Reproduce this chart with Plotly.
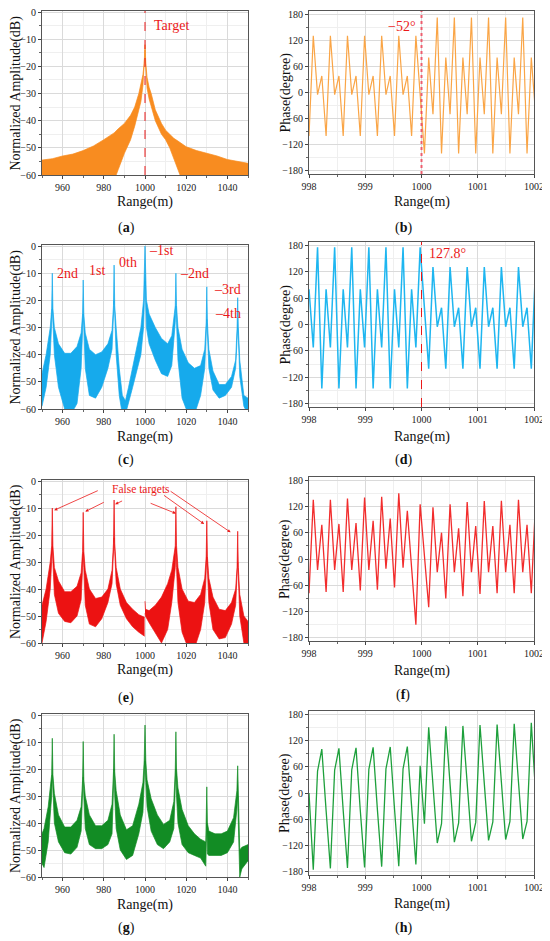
import plotly.graph_objects as go

# ------------------------------------------------------------------
# Values
# ------------------------------------------------------------------
target_range = 1000  # true target position (m)

# range axes / tick labels
amp_xticks = [960, 980, 1000, 1020, 1040]
amp_yticks = [0, -10, -20, -30, -40, -50, -60]
phase_xticks = [998, 999, 1000, 1001, 1002]
phase_yticks = [-180, -120, -60, 0, 60, 120, 180]

# (a) true target only: upper / lower edge of the amplitude band (dB)
a_range = [950, 955, 960, 965, 970, 975, 980, 985, 987, 990,
           993, 995, 997, 998, 999, 999.6, 1000, 1000.4, 1001, 1002,
           1003, 1005, 1008, 1010, 1012, 1014, 1016, 1018, 1020, 1025,
           1030, 1035, 1040, 1045, 1050]
a_upper = [-54.5, -54, -53, -52.3, -51, -49.3, -47, -44.5, -43, -41,
           -38, -35, -30, -27, -23, -19, -12, -19, -24, -27.7,
           -30, -36, -41, -43.5, -45, -46.5, -47.5, -48.5, -49.6, -51,
           -52, -53, -54.3, -55, -55.7]
a_lower = [-62, -62, -62, -62, -62, -62, -62, -62, -58, -52,
           -47, -42, -36, -33, -27, -21, -14, -21, -28, -32,
           -35, -40, -45, -47, -50, -54, -58, -62, -62, -62,
           -62, -62, -62, -62, -62]

# (c) interrupted-sampling repeater: harmonic false targets
c_range = [950, 952, 954, 954.7, 955, 955.3, 956, 958, 961, 964,
           967, 969, 969.7, 970, 970.3, 971, 973, 976, 979, 982,
           984, 984.7, 985, 985.3, 986, 987.5, 989, 990.5, 992, 994,
           996, 998, 999.3, 1000, 1000.7, 1002, 1005, 1008, 1011, 1013,
           1014.7, 1015, 1015.3, 1016, 1018, 1021, 1024, 1027, 1029, 1029.7,
           1030, 1030.3, 1031, 1033, 1036, 1039, 1042, 1044, 1044.7, 1045,
           1045.3, 1046, 1048, 1050]
c_upper = [-47, -40, -30, -23, -10, -23, -30, -36, -39.5, -39.5,
           -37, -32, -25, -12.5, -25, -32, -38, -40, -39, -36,
           -31, -22, -7, -22, -30, -45, -55, -57, -52, -45,
           -38, -30, -20, 0, -20, -25, -30, -34, -36, -33,
           -22, -10, -22, -30, -38, -43, -45, -44, -38, -28,
           -15, -28, -38, -46, -51, -51, -48, -42, -30, -19,
           -30, -42, -55, -56]
c_lower = [-59, -52, -40, -28, -23, -28, -40, -52, -60, -62,
           -58, -45, -30, -25, -30, -45, -55, -56, -52, -45,
           -38, -25, -20, -25, -40, -55, -62, -62, -58, -52,
           -46, -40, -30, -13, -30, -36, -42, -47, -48, -44,
           -28, -22, -28, -42, -56, -62, -62, -55, -45, -32,
           -27, -32, -45, -53, -56, -55, -52, -45, -33, -30,
           -33, -48, -59, -62]

# (e) false targets only (true target removed)
e_range = [950, 952, 954, 954.7, 955, 955.3, 956, 958, 961, 964,
           967, 969, 969.7, 970, 970.3, 971, 973, 976, 979, 982,
           984, 984.7, 985, 985.3, 986, 988, 991, 994, 997, 999.8,
           1000, 1000.2, 1002, 1005, 1008, 1011, 1013, 1014.7, 1015, 1015.3,
           1016, 1018, 1021, 1024, 1027, 1029, 1029.7, 1030, 1030.3, 1031,
           1033, 1036, 1039, 1042, 1044, 1044.7, 1045, 1045.3, 1046, 1048,
           1050]
e_upper = [-46, -40, -30, -24, -10, -24, -32, -37, -41, -41,
           -39, -34, -26, -11.6, -26, -33, -40, -43.5, -43, -40,
           -33, -23, -7, -23, -32, -40, -45, -47.5, -49.5, -50.5,
           -44.5, -47.5, -48, -46, -43, -38, -33, -24, -9.5, -24,
           -32, -40, -44.5, -45, -42, -36, -28, -14.7, -28, -36,
           -43, -47.5, -48, -45, -40, -32, -18.6, -32, -42, -50,
           -52]
e_lower = [-60, -52, -40, -30, -25, -30, -42, -49, -52, -52.5,
           -50, -44, -32, -27, -32, -46, -53, -54, -51, -45,
           -38, -26, -21, -26, -38, -46, -51, -54, -56, -57.5,
           -49, -50, -52.5, -56, -60, -55, -45, -32, -25, -32,
           -45, -56, -62, -62, -55, -45, -33, -28, -33, -45,
           -55, -58.5, -58, -53, -46, -35, -30, -35, -50, -60,
           -62]

# (g) false targets with phase compensation
g_range = [950, 951, 953, 954.7, 955, 955.3, 956, 958, 961, 964,
           967, 969, 969.7, 970, 970.3, 971, 973, 976, 979, 982,
           984, 984.7, 985, 985.3, 986, 988, 991, 994, 997, 999,
           999.6, 1000, 1000.4, 1001, 1003, 1006, 1009, 1012, 1014, 1014.7,
           1015, 1015.3, 1016, 1018, 1021, 1024, 1027, 1029.5, 1030, 1030.3,
           1031, 1034, 1037, 1040, 1043, 1044.6, 1045, 1045.3, 1046, 1047,
           1050]
g_upper = [-44, -42, -34, -22, -8.6, -22, -29, -37, -41.5, -41.5,
           -39, -34, -24, -9.8, -24, -30, -37, -41, -41, -39,
           -33, -21, -7.1, -21, -28, -37, -42.5, -41, -33, -25,
           -17, -3.7, -17, -24, -31, -37, -40.5, -39, -32, -20,
           -6.2, -20, -27, -35, -41, -44, -46, -47, -26.6, -40,
           -43, -44, -44, -43, -38, -28, -18.8, -32, -50, -49,
           -48]
g_lower = [-55, -56.5, -47, -30, -22, -30, -40, -47, -51, -51.5,
           -49, -43, -30, -23, -30, -42, -48, -49.5, -49.5, -48,
           -44, -30, -20, -30, -42, -50, -53.5, -52, -44, -36,
           -25, -17, -25, -34, -43, -48, -49.5, -47, -42, -30,
           -20, -30, -40, -48, -51, -52, -53, -56, -40, -51.5,
           -52, -52, -52, -51, -47, -35, -30, -40, -60, -57,
           -54]

# phase samples from 998 m on, one range bin apart
bin_size = 0.076
phase_range = [round(998 + bin_size * i, 3) for i in range(54)]

b_phase = [-100, 130, -5, 38, -100, 130, -5, 38, -100, 130,
           -5, 38, -100, 130, -5, 38, -100, 130, -5, 38,
           -100, 130, -5, 38, -100, 130, -5, -140, 80, -50,
           172, -140, 80, -50, 172, -140, 80, -50, 172, -140,
           80, -50, 172, -140, 80, -50, 172, -140, 80, -50,
           172, -140, 80, -50]
d_phase = [80, -52, 175, -145, 80, -52, 175, -145, 80, -52,
           175, -145, 80, -52, 175, -145, 80, -52, 175, -145,
           80, -52, 175, -145, 80, -52, 175, 40, -100, 130,
           -5, 38, -100, 130, -5, 38, -100, 130, -5, 38,
           -100, 130, -5, 38, -100, 130, -5, 38, -100, 130,
           -5, 38, -100, 130]
f_phase = [-78, 135, -25, 78, -75, 135, -25, 80, -75, 138,
           -25, 82, -72, 140, -25, 87, -70, 142, -22, 92,
           -65, 150, -20, 110, -20, -150, 125, 5, -110, 118,
           -30, 60, -90, 125, -30, 70, -85, 130, -30, 75,
           -80, 132, -30, 75, -78, 133, -30, 78, -78, 135,
           -30, 78, -78, 130]
h_phase = [0, -175, 50, 100, -40, -172, 52, 102, -40, -171,
           53, 103, -40, -170, 54, 104, -38, -168, 55, 105,
           -36, -167, 55, 106, -30, -163, 62, -70, 150, 20,
           -114, -70, 152, 20, -112, -68, 153, 22, -110, -67,
           155, 22, -108, -66, 156, 25, -106, -65, 158, 25,
           -105, -65, 160, 0]

# labels of panel (c)
c_labels = ["2nd", "1st", "0th", "–1st", "–2nd", "–3rd", "–4th"]
c_label_x = [956.3, 971.8, 986.4, 1001, 1016, 1032.5, 1033]
c_label_y = [-10.2, -9.1, -5.9, -1.8, -10.2, -16, -24.9]

# arrows of panel (e): head at the false target, tail near the text
false_peak_x = [955.9, 971.0, 985.5, 1015.0, 1028.7, 1041.6]
false_peak_y = [-10.8, -11.3, -8.6, -12.0, -15.9, -19.0]
false_tail_x = [977.8, 980.7, 989.6, 1002.0, 1008.5, 1011.7]
false_tail_y = [-3.3, -7.6, -7.1, -8.0, -4.9, -3.4]

# ------------------------------------------------------------------
# Figure
# ------------------------------------------------------------------
FONT = "Liberation Serif, Times New Roman, serif"
OFF = 8                # default body margin of the html page
W, H = 550 - OFF, 941 - OFF
RED = "rgb(235,25,25)"


def px(x):
    return (x - OFF) / W


def py(y):
    return 1 - (y - OFF) / H


# panel frames in page pixels: left, right, top, bottom
frames = {
    1: (42, 248, 11, 175), 2: (309, 534, 11, 174),
    3: (42, 248, 245, 409), 4: (309, 534, 242, 407),
    5: (42, 248, 480, 643), 6: (309, 534, 477, 641),
    7: (42, 248, 714, 877), 8: (309, 534, 711, 875),
}


def sfx(n):
    return "" if n == 1 else str(n)


fig = go.Figure()


def add_band(n, x, lo, hi, color):
    for y, fill in ((lo, None), (hi, "tonexty")):
        fig.add_trace(go.Scatter(
            x=x, y=y, mode="lines", line=dict(color=color, width=0.7),
            fill=fill, fillcolor=color if fill else None,
            xaxis="x" + sfx(n), yaxis="y" + sfx(n),
            showlegend=False, hoverinfo="skip"))


def add_phase(n, y, color, width):
    fig.add_trace(go.Scatter(
        x=phase_range, y=y, mode="lines", line=dict(color=color, width=width),
        xaxis="x" + sfx(n), yaxis="y" + sfx(n), showlegend=False))


add_band(1, a_range, a_lower, a_upper, "rgb(248,140,32)")
add_phase(2, b_phase, "rgb(250,165,70)", 1.2)
add_band(3, c_range, c_lower, c_upper, "rgb(22,170,236)")
add_phase(4, d_phase, "rgb(30,182,240)", 1.5)
# panel (e): band is split at the removed true target
split = next(i for i, r in enumerate(e_range) if r >= target_range)
add_band(5, e_range[:split], e_lower[:split], e_upper[:split], "rgb(236,18,18)")
add_band(5, e_range[split:], e_lower[split:], e_upper[split:], "rgb(236,18,18)")
add_phase(6, f_phase, "rgb(242,45,45)", 1.3)
add_band(7, g_range, g_lower, g_upper, "rgb(18,140,36)")
add_phase(8, h_phase, "rgb(30,160,60)", 1.3)


def axis(domain, rng, tickvals, minor_dtick, anchor):
    return dict(
        domain=domain, range=rng, anchor=anchor, automargin=False,
        tickvals=tickvals, ticks="outside", ticklen=3, tickcolor="#444",
        tickfont=dict(family=FONT, size=10, color="#222"),
        ticklabeloverflow="allow",
        showline=True, linecolor="#555", linewidth=1, mirror=True,
        showgrid=True, gridcolor="#DADADA", gridwidth=0.8, zeroline=False,
        minor=dict(dtick=minor_dtick, tick0=tickvals[0], ticks="outside", ticklen=2,
                   tickcolor="#666", showgrid=True, gridcolor="#EFEFEF"),
    )


layout_axes = {}
for n, (l, r, t, b) in frames.items():
    xd = [px(l), px(r)]
    yd = [py(b), py(t)]
    if n % 2:  # amplitude panels
        xa = axis(xd, [950, 1050], amp_xticks, 10, "y" + sfx(n))
        ya = axis(yd, [-60, 0.4], amp_yticks, 5, "x" + sfx(n))
    else:  # phase panels
        xa = axis(xd, [998, 1002], phase_xticks, 0.5, "y" + sfx(n))
        ya = axis(yd, [-187, 187], phase_yticks, 30, "x" + sfx(n))
    layout_axes["xaxis" + sfx(n)] = xa
    layout_axes["yaxis" + sfx(n)] = ya

fig.update_layout(
    width=W, height=H, margin=dict(l=0, r=0, t=0, b=0, pad=0, autoexpand=False),
    paper_bgcolor="white", plot_bgcolor="white",
    font=dict(family=FONT, color="#111"),
    **layout_axes,
)

# dashed markers at the true target
for n, w, dash, col in ((1, 1, "dash", RED), (2, 2, "dot", "rgba(240,70,90,0.85)"), (4, 1, "dash", RED)):
    fig.add_shape(type="line", xref="x" + sfx(n), yref="y" + sfx(n) + " domain",
                  x0=target_range, x1=target_range, y0=0, y1=1,
                  line=dict(color=col, width=w, dash=dash))

# axis titles and panel letters
title_font = dict(family=FONT, size=14, color="#111")
letters = "abcdefgh"
range_title_y = {1: 202, 2: 202, 3: 437, 4: 437, 5: 670, 6: 671, 7: 905, 8: 904}
letter_y = {1: 228, 2: 228, 3: 460, 4: 460, 5: 698, 6: 695, 7: 928, 8: 928}


def paper_text(text, x, y, **kw):
    fig.add_annotation(text=text, xref="paper", yref="paper", x=px(x), y=py(y),
                       xanchor="center", yanchor="middle", showarrow=False,
                       font=title_font, **kw)


for n, (l, r, t, b) in frames.items():
    left_col = n % 2 == 1
    paper_text("Normalized Amplitude(dB)" if left_col else "Phase(degree)",
               15.5 if left_col else 285, (t + b) / 2, textangle=-90)
    paper_text("Range(m)", (l + r) / 2, range_title_y[n])
    paper_text("(<b>%s</b>)" % letters[n - 1], 126 if left_col else 403, letter_y[n])

red_font = dict(family=FONT, size=14, color=RED)
fig.add_annotation(text="Target", xref="x", yref="y", x=1003.3, y=-4.8,
                   xanchor="left", showarrow=False, font=red_font)
fig.add_annotation(text="−52°", xref="x2", yref="y2", x=999.93, y=151,
                   xanchor="right", showarrow=False, font=red_font)
fig.add_annotation(text="127.8°", xref="x4", yref="y4", x=1000.1, y=161,
                   xanchor="left", showarrow=False, font=red_font)
for txt, lx, ly in zip(c_labels, c_label_x, c_label_y):
    fig.add_annotation(text=txt, xref="x3", yref="y3", x=lx, y=ly,
                       xanchor="left", showarrow=False, font=red_font)

fig.add_annotation(text="False targets", xref="x5", yref="y5", x=998.1, y=-3.1,
                   showarrow=False, font=dict(family=FONT, size=11.5, color=RED))
for hx, hy, tx, ty in zip(false_peak_x, false_peak_y, false_tail_x, false_tail_y):
    fig.add_annotation(text="", xref="x5", yref="y5", axref="x5", ayref="y5",
                       x=hx, y=hy, ax=tx, ay=ty, showarrow=True,
                       arrowhead=2, arrowsize=0.8, arrowwidth=0.8, arrowcolor=RED)

fig.write_html("out.html")
